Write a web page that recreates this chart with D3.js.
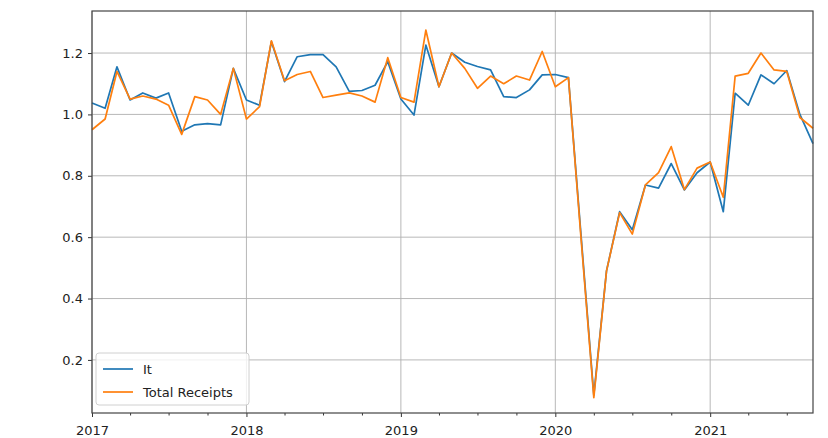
<!DOCTYPE html>
<html>
<head>
<meta charset="utf-8">
<script src="https://cdn.jsdelivr.net/npm/d3@7/dist/d3.min.js"></script>
<style>
  html, body { margin: 0; padding: 0; background: #fff; }
  svg { display: block; }
  text { font-family: "DejaVu Sans", sans-serif; fill: #222; }
</style>
</head>
<body>
<svg id="chart" width="828" height="438"></svg>
<script>
// Monthly series, Jan 2017 through Sep 2021
const startMonth = "2017-01";
const itValues = [
  1.037, 1.020, 1.155, 1.047, 1.070, 1.053, 1.070, 0.945, 0.966, 0.970, 0.966, 1.150,
  1.047, 1.030, 1.237, 1.107, 1.188, 1.195, 1.195, 1.155, 1.075, 1.078, 1.095, 1.172,
  1.050, 0.998, 1.226, 1.090, 1.200, 1.170, 1.156, 1.145, 1.058, 1.055, 1.080, 1.129,
  1.130, 1.120, 0.620, 0.085, 0.490, 0.683, 0.624, 0.770, 0.760, 0.840, 0.754, 0.810,
  0.845, 0.683, 1.069, 1.030, 1.129, 1.100, 1.143, 1.000, 0.905
];
const totalReceiptsValues = [
  0.950, 0.985, 1.140, 1.050, 1.060, 1.050, 1.030, 0.935, 1.058, 1.047, 1.000, 1.150,
  0.985, 1.025, 1.240, 1.110, 1.130, 1.140, 1.055, 1.063, 1.070, 1.060, 1.040, 1.185,
  1.055, 1.040, 1.275, 1.090, 1.200, 1.150, 1.085, 1.125, 1.100, 1.125, 1.112, 1.205,
  1.090, 1.120, 0.610, 0.077, 0.490, 0.680, 0.610, 0.770, 0.810, 0.895, 0.755, 0.825,
  0.845, 0.730, 1.125, 1.134, 1.200, 1.145, 1.140, 0.990, 0.955
];
const seriesNames = ["It", "Total Receipts"];
const seriesColors = ["#1f77b4", "#ff7f0e"];
const yTickValues = [0.2, 0.4, 0.6, 0.8, 1.0, 1.2];
const yDomain = [0.027, 1.337];

const parseMonth = d3.timeParse("%Y-%m");
const t0 = parseMonth(startMonth);
const dates = itValues.map((_, i) => d3.timeMonth.offset(t0, i));
const series = [itValues, totalReceiptsValues].map((vals, k) => ({
  name: seriesNames[k],
  color: seriesColors[k],
  points: vals.map((v, i) => ({ date: dates[i], value: v }))
}));

const margin = { left: 92, right: 15, top: 11, bottom: 25 };
const W = 828, H = 438;
const svg = d3.select("#chart");

const x = d3.scaleTime()
  .domain(d3.extent(dates))
  .range([margin.left, W - margin.right]);
const y = d3.scaleLinear()
  .domain(yDomain)
  .range([H - margin.bottom, margin.top]);

const yearTicks = d3.timeYear.range(d3.timeYear.ceil(x.domain()[0]), x.domain()[1]);
const quarterTicks = d3.timeMonth.every(3).range(x.domain()[0], x.domain()[1])
  .filter(d => d.getMonth() !== 0);

// grid
const grid = svg.append("g").attr("stroke", "#b0b0b0").attr("stroke-width", 0.9);
grid.selectAll("line.v").data(yearTicks).join("line")
  .attr("x1", d => x(d)).attr("x2", d => x(d))
  .attr("y1", margin.top).attr("y2", H - margin.bottom);
grid.selectAll("line.h").data(yTickValues).join("line")
  .attr("x1", margin.left).attr("x2", W - margin.right)
  .attr("y1", d => y(d)).attr("y2", d => y(d));

// lines
const line = d3.line().x(d => x(d.date)).y(d => y(d.value));
svg.append("g").selectAll("path").data(series).join("path")
  .attr("fill", "none")
  .attr("stroke", d => d.color)
  .attr("stroke-width", 1.7)
  .attr("stroke-linejoin", "round")
  .attr("d", d => line(d.points));

// axes
svg.append("g")
  .attr("transform", `translate(0,${H - margin.bottom})`)
  .call(d3.axisBottom(x).tickValues(yearTicks).tickFormat(d3.timeFormat("%Y"))
    .tickSize(4).tickPadding(9));
svg.append("g")
  .attr("transform", `translate(0,${H - margin.bottom})`)
  .call(d3.axisBottom(x).tickValues(quarterTicks).tickFormat("").tickSize(2.5))
  .call(g => g.select(".domain").remove());
svg.append("g")
  .attr("transform", `translate(${margin.left},0)`)
  .call(d3.axisLeft(y).tickValues(yTickValues).tickFormat(d3.format(".1f"))
    .tickSize(4).tickPadding(5));

svg.selectAll(".tick text").style("font-size", "13px").attr("fill", "#222");
svg.selectAll(".tick line").attr("stroke", "#333");
svg.selectAll(".domain").remove();

// frame
svg.append("rect")
  .attr("x", margin.left).attr("y", margin.top)
  .attr("width", W - margin.left - margin.right)
  .attr("height", H - margin.top - margin.bottom)
  .attr("fill", "none").attr("stroke", "#444").attr("stroke-width", 1.2);

// legend
const legend = svg.append("g").attr("transform", `translate(96,353)`);
legend.append("rect")
  .attr("width", 153).attr("height", 52).attr("rx", 3)
  .attr("fill", "#fff").attr("fill-opacity", 0.8)
  .attr("stroke", "#d0d0d0");
const items = legend.selectAll("g.item").data(series).join("g")
  .attr("transform", (d, i) => `translate(0,${16 + i * 23})`);
items.append("line")
  .attr("x1", 7).attr("x2", 37)
  .attr("stroke", d => d.color).attr("stroke-width", 1.7);
items.append("text")
  .attr("x", 47).attr("dy", "0.35em")
  .style("font-size", "13px")
  .text(d => d.name);
</script>
</body>
</html>
